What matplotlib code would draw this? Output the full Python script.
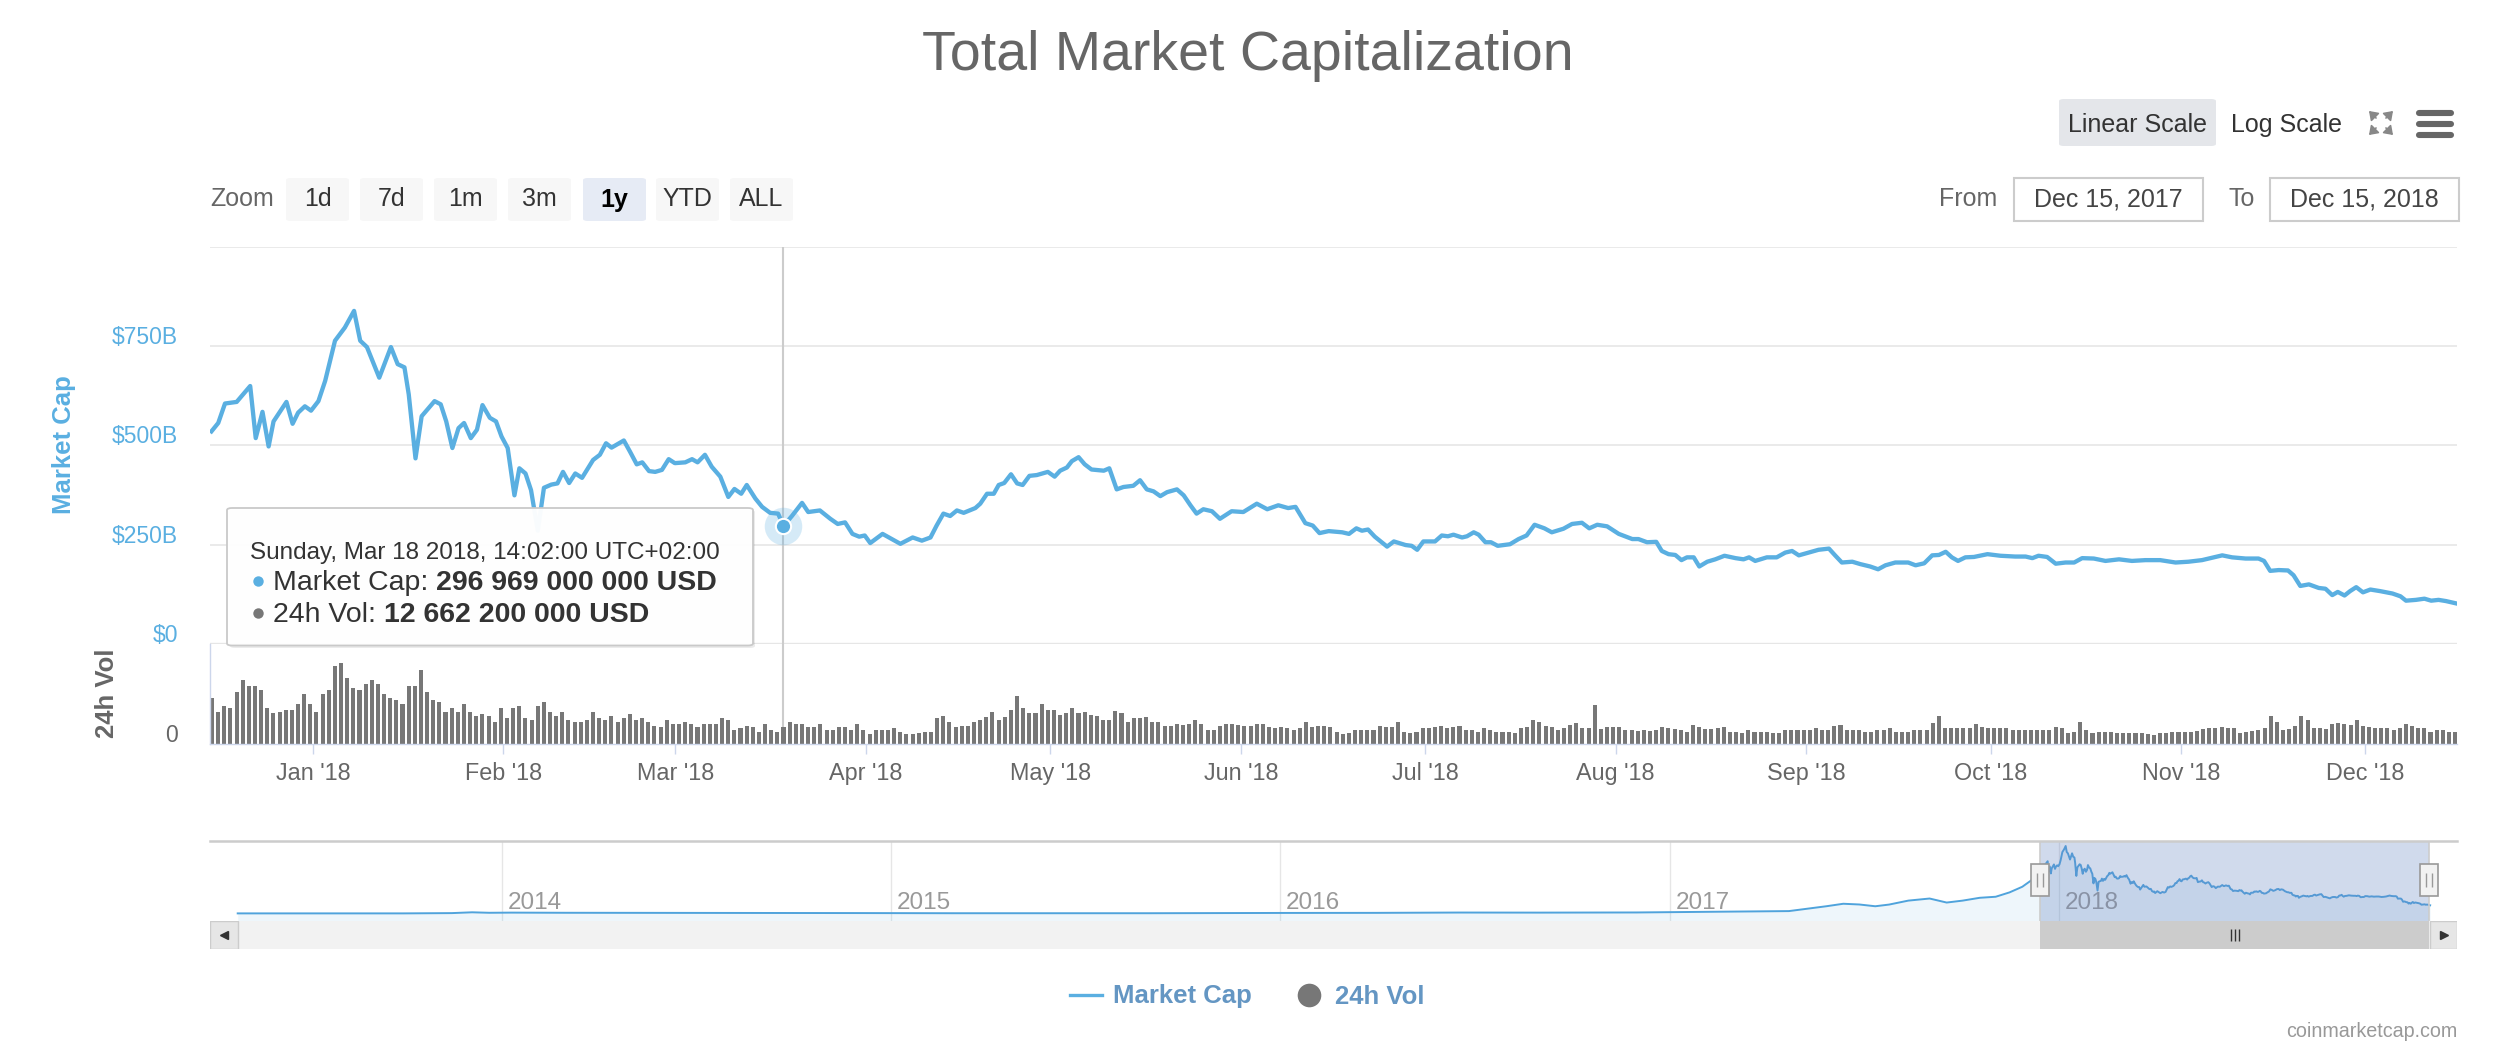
import numpy as np
import matplotlib
matplotlib.use("Agg")
import matplotlib.pyplot as plt
import matplotlib.dates as mdates
from matplotlib.patches import FancyBboxPatch, Rectangle, FancyArrowPatch
from matplotlib.lines import Line2D
from matplotlib.transforms import ScaledTranslation

plt.rcParams['font.family'] = ['Liberation Sans', 'DejaVu Sans']

W, H = 2516, 1056
BLUE = '#5aafe1'
GREY = '#666666'
LEGEND_TEXT = '#6496c3'

# total market cap in billion USD, x = days after 2017-12-15 00:00
cap_day = [0.5, 1.6, 2.7, 4.6, 6.8, 7.7, 8.8, 9.8, 10.6, 12.7, 13.7, 14.6, 15.7, 16.7,
           17.9, 19.0, 20.6, 22.2, 23.7, 24.7, 25.8, 27.8, 29.7, 30.8, 31.9, 32.6, 33.7,
           34.7, 36.8, 37.8, 38.7, 39.7, 40.7, 41.6, 42.7, 43.7, 44.6, 45.8, 46.8, 47.7,
           48.7, 49.8, 50.6, 51.6, 52.5, 53.6, 54.6, 55.8, 56.8, 57.7, 58.7, 59.7, 60.8,
           62.6, 63.7, 64.7, 65.6, 67.6, 68.6, 69.7, 70.6, 71.7, 72.7, 73.8, 74.9, 75.9,
           77.6, 78.7, 79.6, 80.8, 81.9, 83.3, 84.6, 85.6, 86.7, 87.6, 89.0, 90.1, 91.4,
           92.7, 93.6, 95.0, 96.6, 97.6, 99.5, 101.2, 102.4, 103.6, 104.8, 105.9, 106.8,
           107.7, 109.7, 112.6, 114.6, 116.1, 117.5, 118.5, 119.6, 120.7, 121.8, 122.9,
           124.8, 125.6, 126.7, 127.8, 128.6, 129.5, 130.6, 131.6, 132.5, 133.6, 134.8,
           136.6, 137.7, 138.6, 139.7, 140.5, 141.6, 142.6, 143.7, 145.7, 146.6, 147.8,
           148.9, 150.5, 151.6, 152.7, 153.8, 154.9, 156.0, 157.6, 158.7, 159.8, 160.8,
           161.9, 163.3, 164.6, 166.5, 168.4, 170.6, 172.3, 174.1, 175.7, 176.9, 178.5,
           179.7, 180.8, 182.3, 184.5, 185.6, 186.8, 187.7, 188.7, 189.8, 191.8, 192.9,
           194.8, 195.8, 196.7, 197.7, 199.6, 200.7, 201.7, 202.6, 204.0, 204.8, 205.9,
           206.7, 207.8, 208.7, 209.8, 211.8, 213.2, 214.5, 215.8, 217.4, 218.6, 220.5,
           221.9, 223.5, 224.7, 226.0, 227.6, 229.5, 231.7, 232.7, 234.1, 235.6, 236.5,
           237.6, 238.7, 239.7, 240.6, 241.7, 242.6, 243.9, 245.2, 246.7, 248.5, 249.8,
           250.7, 251.7, 253.6, 255.2, 256.6, 257.7, 258.8, 260.4, 262.0, 263.7, 264.7,
           265.8, 267.5, 268.8, 270.4, 271.7, 272.9, 274.5, 276.6, 277.8, 279.2, 280.5,
           281.6, 282.7, 283.7, 284.7, 285.9, 287.3, 289.5, 291.6, 294.0, 295.7, 296.8,
           297.8, 299.2, 300.6, 302.2, 303.6, 304.9, 306.8, 308.7, 310.9, 313.0, 315.2,
           317.6, 320.1, 322.2, 324.4, 326.3, 327.7, 329.3, 331.5, 333.6, 334.5, 335.5,
           336.9, 338.4, 339.3, 340.4, 341.8, 343.4, 344.5, 345.6, 346.5, 347.6, 348.5,
           349.5, 350.6, 351.8, 353.4, 355.4, 356.7, 357.6, 359.2, 360.6, 361.7, 362.9,
           364.1, 365.8]
cap_value = [535, 556, 605, 609, 649, 518, 584, 497, 560, 609, 554, 582, 598, 587,
             611, 662, 763, 796, 838, 763, 747, 670, 747, 704, 696, 628, 467,
             573, 611, 603, 560, 493, 543, 556, 518, 539, 601, 569, 560, 522,
             493, 374, 442, 429, 387, 285, 393, 401, 404, 433, 405, 429, 418,
             463, 476, 505, 494, 512, 484, 452, 457, 435, 433, 438, 465, 455,
             457, 465, 457, 476, 446, 421, 370, 390, 378, 400, 366, 345, 330,
             328, 297, 323, 355, 332, 336, 315, 302, 306, 277, 270, 273,
             254, 277, 252, 268, 260, 268, 298, 328, 322, 336, 330,
             342, 353, 378, 378, 400, 405, 427, 404, 400, 423, 425,
             433, 421, 436, 444, 460, 470, 452, 439, 436, 442, 389,
             395, 398, 412, 389, 384, 372, 382, 389, 374, 349, 328,
             339, 334, 315, 334, 332, 353, 339, 349, 342, 345, 304,
             298, 279, 284, 281, 277, 291, 285, 288, 270, 245, 258,
             249, 247, 237, 258, 258, 273, 271, 275, 268, 271, 281,
             275, 256, 256, 247, 251, 264, 273, 300, 291, 281, 290,
             302, 305, 291, 300, 296, 277, 264, 264, 256, 257, 234,
             226, 224, 211, 218, 218, 195, 207, 213, 222, 216, 213,
             218, 209, 218, 218, 230, 234, 223, 230, 237, 240, 223,
             205, 207, 201, 195, 188, 198, 205, 205, 198, 203, 223,
             224, 232, 218, 209, 218, 219, 226, 222, 220, 220, 216,
             222, 219, 202, 205, 205, 216, 215, 209, 213, 209, 211,
             211, 205, 207, 211, 218, 223, 218, 215, 215, 209, 184,
             186, 185, 173, 146, 150, 141, 139, 123, 131, 122, 133,
             143, 130, 137, 133, 127, 120, 109, 111, 114, 109, 111,
             108, 102]

# 24h volume in billion USD, one bar a day from 2017-12-15
vol_value = [34.6, 24.5, 28.8, 27.0, 39.2, 48.5, 44.0, 44.0, 40.9, 27.0,
             23.2, 24.5, 25.8, 25.8, 30.3, 37.9, 30.3, 24.5, 37.9, 40.9,
             59.1, 61.7, 49.8, 42.2, 40.9, 45.5, 48.5, 45.5, 37.9, 34.6,
             33.4, 30.3, 44.0, 44.0, 56.1, 39.2, 33.4, 31.8, 24.5, 27.3,
             24.5, 30.3, 24.5, 21.2, 22.7, 21.2, 16.7, 27.3, 19.7, 27.3,
             28.8, 19.7, 18.2, 28.8, 31.8, 24.5, 21.2, 24.5, 18.2, 16.7,
             16.7, 18.2, 24.5, 19.7, 18.2, 21.2, 16.7, 19.7, 22.7, 18.2,
             19.7, 16.7, 13.9, 12.6,
             18.2, 15.2, 15.2, 16.9, 15.2, 12.6, 15.2, 15.2, 15.2, 19.5,
             18.2, 10.6, 11.9, 13.6, 12.6, 9.3, 15.2, 10.6, 9.3, 12.7,
             16.9, 15.2, 15.2, 12.6, 12.6, 15.2, 10.6, 10.6, 12.6, 12.6,
             10.6, 15.2, 10.6, 7.6, 10.6, 10.6, 10.6, 11.9, 9.3, 7.6,
             7.6, 8.6, 9.3, 9.3, 19.5, 21.2, 16.9, 12.6, 13.6, 13.6,
             16.9, 18.2, 20.2, 24.5, 18.2, 20.2, 25.8, 36.4, 27.0, 23.2,
             23.2, 30.3, 25.8, 25.8, 22.0, 23.2, 27.0, 23.8, 24.5, 22.0,
             21.2, 18.2, 18.2,
             25.3, 23.8, 16.9, 19.5, 19.5, 20.7, 16.9, 16.4, 13.6, 13.6,
             15.2, 14.4, 15.2, 18.2, 15.2, 10.6, 10.6, 13.6, 15.2, 15.2,
             14.4, 13.6, 13.6, 15.2, 15.2, 13.1, 12.4, 13.1, 11.9, 10.6,
             11.9, 16.9, 12.6, 13.6, 13.6, 13.1, 9.3, 7.6, 8.1, 10.6,
             10.6, 10.6, 10.6, 13.6, 13.1, 13.1, 16.9, 9.3, 8.1, 9.3,
             11.9, 11.9, 13.1, 13.6, 11.9, 13.1, 13.6, 10.6, 10.6, 9.3,
             11.9, 10.6, 9.3, 9.3, 9.3, 8.1, 11.9, 12.6, 18.2, 16.9,
             13.6, 12.6, 10.6,
             11.9, 14.4, 16.2, 11.9, 11.9, 29.6, 11.1, 12.6, 13.1, 13.1,
             10.6, 10.6, 10.1, 10.6, 10.1, 10.6, 13.1, 11.9, 11.1, 10.6,
             9.3, 14.4, 12.6, 11.1, 11.1, 11.9, 13.1, 9.3, 9.3, 8.6,
             10.6, 9.3, 9.3, 9.3, 8.1, 8.1, 10.6, 10.6, 10.6, 10.6,
             10.6, 11.9, 10.6, 10.6, 13.6, 14.4, 10.6, 10.6, 10.6, 9.3,
             9.3, 10.6, 10.6, 11.9, 9.3, 9.3, 9.3, 10.6, 10.6, 10.6,
             16.2, 21.2, 11.9, 11.9, 11.9, 11.9, 11.9, 15.2, 13.1, 11.9,
             11.9, 11.9, 11.9,
             10.6, 10.6, 10.6, 10.6, 10.6, 10.6, 10.6, 13.1, 11.9, 8.1,
             9.3, 16.9, 10.6, 8.6, 9.3, 9.3, 9.3, 8.6, 8.1, 8.6,
             8.1, 8.1, 7.6, 6.8, 8.6, 8.6, 9.3, 9.3, 9.3, 9.3,
             10.1, 11.1, 11.9, 11.9, 13.1, 11.9, 11.9, 8.6, 9.3, 10.1,
             10.6, 11.9, 21.2, 16.9, 10.6, 11.1, 13.6, 21.2, 18.2, 11.9,
             11.9, 11.1, 15.2, 16.2, 15.2, 14.4, 18.2, 13.6, 13.1, 11.9,
             11.9, 11.9, 10.6, 11.9, 15.2, 13.6, 11.9, 11.9, 9.3, 10.6,
             10.6, 9.3, 9.3]

# older history, only visible in the navigator (billion USD)
hist_date = ['2013-04-28', '2013-07-01', '2013-10-01', '2013-11-15', '2013-12-04',
             '2013-12-20', '2014-01-10', '2014-03-01', '2014-06-01', '2014-09-01',
             '2014-12-01', '2015-03-01', '2015-06-01', '2015-09-01', '2015-11-05',
             '2016-01-01', '2016-04-01', '2016-06-18', '2016-09-01', '2016-12-01',
             '2017-01-05', '2017-03-01', '2017-04-23', '2017-05-12', '2017-05-28',
             '2017-06-13', '2017-06-28', '2017-07-13', '2017-07-26', '2017-08-13',
             '2017-09-02', '2017-09-18', '2017-10-03', '2017-10-19', '2017-11-03',
             '2017-11-16', '2017-11-28', '2017-12-09']
hist_value = [1.5, 1.2, 1.6, 5.0, 15.0, 9.0, 11.0, 9.0, 8.0, 6.5,
              5.5, 3.5, 3.5, 3.5, 6.0, 7.0, 8.0, 12.0, 11.0, 13.0,
              17.0, 22.0, 30.0, 62.0, 90.0, 121.0, 112.0, 90.0, 111.0, 160.0,
              186.0, 136.0, 160.0, 195.0, 208.0, 262.0, 332.0, 436.0]

zoom_buttons = ['1d', '7d', '1m', '3m', '1y', 'YTD', 'ALL']
cap_ticks = [0, 250, 500, 750, 1000]
cap_ticklabels = ['$0', '$250B', '$500B', '$750B', '']
nav_years = ['2014', '2015', '2016', '2017', '2018']

# hovered point
tip_day = 93.58
tip_cap = 296969000000
tip_vol = 12662200000

start = np.datetime64('2017-12-15T00:00')


def day_num(d):
    return mdates.date2num(start + np.round(np.asarray(d, dtype=float) * 1440).astype('timedelta64[m]'))


def P(x, y):
    # pixel position in the screenshot -> figure fraction
    return x / W, 1 - y / H


fig = plt.figure(figsize=(W / 100, H / 100), dpi=100)
fig.patch.set_facecolor('white')

ax = fig.add_axes([210 / W, 1 - 644 / H, 2247 / W, 397.5 / H])
axv = fig.add_axes([210 / W, 1 - 744 / H, 2247 / W, 100 / H], sharex=ax)
axn = fig.add_axes([210 / W, 1 - 921 / H, 2247 / W, 80 / H])
axs = fig.add_axes([210 / W, 1 - 949 / H, 2247 / W, 28 / H], sharex=axn)

up = ScaledTranslation(0, 11 / 100, fig.dpi_scale_trans)

# ---- market cap panel
cap_x = day_num(cap_day)
ax.plot(cap_x, cap_value, color=BLUE, lw=3.1, solid_joinstyle='round', zorder=3)
ax.set_xlim(day_num(0.26), day_num(365.9))
ax.set_ylim(0, 1000)
ax.set_yticks(cap_ticks, cap_ticklabels)
ax.grid(axis='y', color='#e6e6e6', lw=1.2)
ax.axhline(0, color='#e6e6e6', lw=2.4, zorder=1)
for s in ax.spines.values():
    s.set_visible(False)
ax.tick_params(axis='y', length=0, pad=23, labelsize=16.5, labelcolor=BLUE)
ax.tick_params(axis='x', bottom=False, labelbottom=False)
for lab in ax.get_yticklabels():
    lab.set_transform(lab.get_transform() + up)

# ---- volume panel
vol_x = day_num(np.arange(len(vol_value)) + 0.585)
axv.bar(vol_x, vol_value, width=0.66, color='#777777', lw=0, zorder=2)
axv.set_ylim(0, 75.8)
axv.set_yticks([0], ['0'])
axv.tick_params(axis='y', length=0, pad=23, labelsize=16.5, labelcolor=GREY)
for lab in axv.get_yticklabels():
    lab.set_transform(lab.get_transform() + up)
axv.xaxis.set_major_locator(mdates.MonthLocator())
axv.xaxis.set_major_formatter(mdates.DateFormatter("%b '%y"))
axv.tick_params(axis='x', length=7.2, width=1, color='#ccd6eb', labelsize=16.8,
                labelcolor=GREY, pad=5.5)
for k in ['top', 'right']:
    axv.spines[k].set_visible(False)
for k in ['bottom', 'left']:
    axv.spines[k].set_color('#ccd6eb')
    axv.spines[k].set_linewidth(1)

# crosshair + hovered marker
tip_x = day_num(tip_day)
ax.axvline(tip_x, color='#cccccc', lw=1.5, zorder=2)
axv.axvline(tip_x, color='#cccccc', lw=1.5, zorder=1)
ax.plot(tip_x, tip_cap / 1e9, 'o', ms=27, color=BLUE, alpha=0.25, mec='none', zorder=4, clip_on=False)
ax.plot(tip_x, tip_cap / 1e9, 'o', ms=11, color=BLUE, mec='white', mew=1.5, zorder=5, clip_on=False)

# ---- navigator
nav_x = np.concatenate([mdates.date2num(np.array(hist_date, dtype='datetime64[D]')), cap_x])
nav_y = np.concatenate([hist_value, cap_value])
nav_lo = mdates.date2num(np.datetime64('2013-04-02'))
nav_hi = mdates.date2num(np.datetime64('2019-01-10'))
axn.set_xlim(nav_lo, nav_hi)
axn.set_ylim(-93, 900)
axn.fill_between(nav_x, nav_y, -93, color=BLUE, alpha=0.1, lw=0)
axn.plot(nav_x, nav_y, color='#4fa3dc', lw=1.4, zorder=3)
axn.axis('off')
lab_off = ScaledTranslation(6 / 100, 0, fig.dpi_scale_trans)
for yr in nav_years:
    xx = mdates.date2num(np.datetime64(yr + '-01-01'))
    axn.axvline(xx, color='#e6e6e6', lw=1, zorder=0)
    axn.text(xx, 0.225, yr, transform=axn.get_xaxis_transform() + lab_off,
             fontsize=17.5, color='#999999', va='center', ha='left', zorder=2)
win0, win1 = day_num(0), day_num(365)
axn.axvspan(win0, win1, color='#6685c2', alpha=0.3, lw=0, zorder=4)
axn.plot([0, 1], [1, 1], transform=axn.transAxes, color='#cccccc', lw=1.8, clip_on=False, zorder=5)
for wx in [win0, win1]:
    axn.axvline(wx, color='#cccccc', lw=1.2, zorder=5)
    hw = 9 / 1.0654  # 9 px in days
    axn.add_patch(Rectangle((wx - hw, 0.3125), 2 * hw, 0.4, transform=axn.get_xaxis_transform(),
                            facecolor='#f2f2f2', edgecolor='#999999', lw=1.2, zorder=6))
    axn.vlines([wx - 2.8, wx + 2.8], 0.42, 0.6, transform=axn.get_xaxis_transform(),
               color='#999999', lw=1, zorder=7)

# ---- scrollbar
axs.set_ylim(0, 1)
axs.axis('off')
axs.axvspan(nav_x[0], nav_x[-1], color='#f2f2f2', lw=0)
axs.axvspan(nav_lo, nav_x[0], facecolor='#e6e6e6', edgecolor='#cccccc', lw=1)
axs.axvspan(nav_x[-1], nav_hi, facecolor='#e6e6e6', edgecolor='#cccccc', lw=1)
axs.axvspan(win0, win1, color='#cccccc', lw=0)
mid = (win0 + win1) / 2
axs.vlines([mid - 3.8, mid, mid + 3.8], 0.3, 0.7, color='#333333', lw=1)
axs.plot((nav_lo + nav_x[0]) / 2, 0.5, marker='<', ms=6, color='#333333')
axs.plot((nav_x[-1] + nav_hi) / 2, 0.5, marker='>', ms=6, color='#333333')

# ---- texts
fig.text(*P(1248, 70), 'Total Market Capitalization', ha='center', va='baseline',
         fontsize=40, color='#666666')
fig.text(*P(64, 445), 'Market Cap', rotation=90, ha='center', va='center',
         fontsize=18.5, fontweight='bold', color=BLUE)
fig.text(*P(107, 693), '24h Vol', rotation=90, ha='center', va='center',
         fontsize=18.5, fontweight='bold', color=GREY)

# range selector buttons
fig.text(*P(210, 206.5), 'Zoom', ha='left', va='baseline', fontsize=18, color=GREY)
btn_x = [286, 360, 434, 508, 583, 656, 730]
for bx, name in zip(btn_x, zoom_buttons):
    sel = name == '1y'
    x0, y0 = P(bx, 221)
    fig.patches.append(FancyBboxPatch((x0, y0), 63 / W, 43 / H,
                                      boxstyle='round,pad=0,rounding_size=0.002',
                                      transform=fig.transFigure,
                                      facecolor='#e6ebf5' if sel else '#f7f7f7', edgecolor='none'))
    fig.text(*P(bx + 31.5, 206.5), name, ha='center', va='baseline', fontsize=18,
             color='black' if sel else '#333333', fontweight='bold' if sel else 'normal')

# scale buttons and icons
x0, y0 = P(2059, 146)
fig.patches.append(FancyBboxPatch((x0, y0), 157 / W, 47 / H, boxstyle='round,pad=0,rounding_size=0.002',
                                  transform=fig.transFigure, facecolor='#e4e6ea', edgecolor='none'))
fig.text(*P(2137.5, 132), 'Linear Scale', ha='center', va='baseline', fontsize=18, color='#333333')
fig.text(*P(2231, 132), 'Log Scale', ha='left', va='baseline', fontsize=18, color='#333333')
cx, cy = 2381, 123
for dx, dy in [(-1, -1), (1, -1), (-1, 1), (1, 1)]:
    fig.patches.append(FancyArrowPatch(P(cx + dx * 3, cy + dy * 3), P(cx + dx * 14, cy + dy * 14),
                                       arrowstyle='-|>,head_length=5,head_width=3.5',
                                       transform=fig.transFigure, color='#888888', lw=1.2))
for hy in [113, 124, 135]:
    fig.lines.append(Line2D([2419 / W, 2451 / W], [1 - hy / H] * 2, transform=fig.transFigure,
                            color=GREY, lw=4.4, solid_capstyle='round'))

# date inputs
fig.text(*P(1997, 206.5), 'From', ha='right', va='baseline', fontsize=18, color=GREY)
fig.text(*P(2255, 206.5), 'To', ha='right', va='baseline', fontsize=18, color=GREY)
for bx, label in [(2014, 'Dec 15, 2017'), (2270, 'Dec 15, 2018')]:
    x0, y0 = P(bx, 221)
    fig.patches.append(Rectangle((x0, y0), 189 / W, 43 / H, transform=fig.transFigure,
                                 facecolor='white', edgecolor='#cccccc', lw=1.5))
    fig.text(*P(bx + 94.5, 206.5), label, ha='center', va='baseline', fontsize=18, color='#444444')

# tooltip
x0, y0 = P(230, 648)
fig.patches.append(FancyBboxPatch((x0, y0), 525 / W, 138 / H, boxstyle='round,pad=0,rounding_size=0.002',
                                  transform=fig.transFigure, facecolor='#000000', alpha=0.08,
                                  edgecolor='none'))
x0, y0 = P(227, 645.5)
fig.patches.append(FancyBboxPatch((x0, y0), 526 / W, 137.5 / H, boxstyle='round,pad=0,rounding_size=0.002',
                                  transform=fig.transFigure, facecolor='white', alpha=0.97,
                                  edgecolor='#c8c8c8', lw=1.3))
fig.text(*P(250, 558.5), 'Sunday, Mar 18 2018, 14:02:00 UTC+02:00', ha='left', va='baseline',
         fontsize=17.5, color='#333333')
renderer = fig.canvas.get_renderer()
rows = [('Market Cap: ', tip_cap, BLUE, 590), ('24h Vol: ', tip_vol, '#777777', 621.5)]
for name, val, col, by in rows:
    fig.lines.append(Line2D([257.5 / W], [1 - (by - 9) / H], transform=fig.transFigure,
                            marker='o', ms=7.5, color=col, mec='none'))
    t = fig.text(*P(273, by), name, ha='left', va='baseline', fontsize=20.5, color='#333333')
    bb = t.get_window_extent(renderer)
    fig.text(bb.x1 / W, 1 - by / H, f'{val:,}'.replace(',', ' ') + ' USD', ha='left', va='baseline',
             fontsize=20.5, fontweight='bold', color='#333333')

# legend
fig.lines.append(Line2D([1070 / W, 1102 / W], [1 - 995 / H] * 2, transform=fig.transFigure,
                        color=BLUE, lw=2.4))
fig.text(*P(1113, 1003.5), 'Market Cap', ha='left', va='baseline', fontsize=18.5,
         fontweight='bold', color=LEGEND_TEXT)
fig.lines.append(Line2D([1309 / W], [1 - 995 / H], transform=fig.transFigure, marker='o',
                        ms=17, color='#777777', mec='none'))
fig.text(*P(1335, 1003.5), '24h Vol', ha='left', va='baseline', fontsize=18.5,
         fontweight='bold', color=LEGEND_TEXT)

fig.text(*P(2457, 1037), 'coinmarketcap.com', ha='right', va='baseline', fontsize=14.2, color='#999999')

fig.savefig('out.png', dpi=100, facecolor='white')
